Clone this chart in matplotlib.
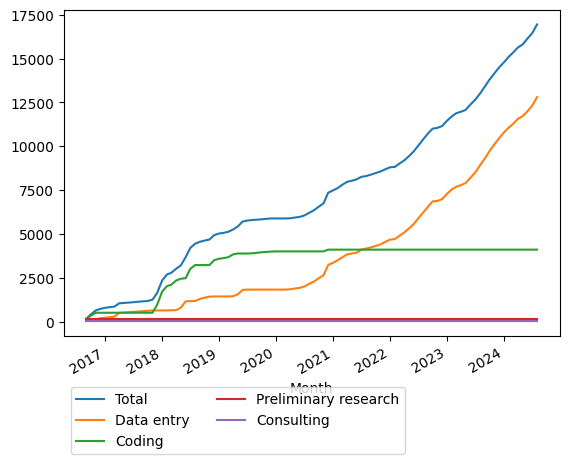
#!/usr/bin/env python3

import numpy as np
import pandas as pd
import matplotlib
matplotlib.use('Agg')
import matplotlib.pyplot as plt # type: ignore
import matplotlib.dates as mdates

# month-end dates, Aug 2016 .. Jul 2024
months = pd.date_range('2016-09-01', periods=96, freq='MS') - pd.Timedelta(days=1)

total = [
	150, 400, 630, 720, 780, 820, 850, 1040, 1060, 1080, 1100, 1130,
	1150, 1170, 1250, 1640, 2340, 2680, 2780, 3010, 3200, 3670, 4200, 4440,
	4550, 4620, 4680, 4930, 5020, 5060, 5120, 5250, 5420, 5700, 5760, 5790,
	5810, 5830, 5860, 5880, 5880, 5880, 5880, 5890, 5930, 5970, 6050, 6200,
	6350, 6550, 6740, 7350, 7480, 7620, 7800, 7970, 8030, 8110, 8250, 8300,
	8380, 8470, 8560, 8680, 8800, 8820, 9000, 9180, 9420, 9690, 10030, 10380,
	10720, 11000, 11050, 11150, 11450, 11700, 11880, 11970, 12070, 12380, 12650, 13000,
	13400, 13800, 14150, 14490, 14780, 15100, 15350, 15640, 15810, 16150, 16450, 16950,
]
data_entry = [
	20, 60, 120, 190, 220, 250, 280, 490, 510, 530, 550, 570,
	590, 610, 630, 630, 630, 630, 640, 650, 790, 1150, 1160, 1170,
	1290, 1360, 1420, 1430, 1430, 1430, 1430, 1440, 1550, 1800, 1820, 1820,
	1820, 1820, 1820, 1820, 1820, 1820, 1820, 1840, 1880, 1920, 2000, 2150,
	2280, 2470, 2640, 3230, 3350, 3500, 3660, 3830, 3880, 3920, 4100, 4160,
	4230, 4310, 4400, 4540, 4670, 4700, 4880, 5070, 5300, 5550, 5880, 6210,
	6540, 6850, 6880, 6980, 7280, 7530, 7680, 7780, 7900, 8200, 8500, 8900,
	9300, 9720, 10100, 10450, 10780, 11060, 11280, 11570, 11720, 12000, 12320, 12800,
]
coding = [
	150, 330, 500, 500, 500, 500, 500, 500, 500, 500, 500, 500,
	500, 500, 500, 970, 1700, 2020, 2100, 2340, 2440, 2470, 3010, 3220,
	3220, 3220, 3220, 3500, 3580, 3620, 3670, 3830, 3880, 3880, 3880, 3890,
	3920, 3950, 3970, 3990, 4000, 4000, 4000, 4000, 4000, 4000, 4000, 4000,
	4000, 4000, 4000, 4100, 4100, 4100, 4100, 4100, 4100, 4100, 4100, 4100,
	4100, 4100, 4100, 4100, 4100, 4100, 4100, 4100, 4100, 4100, 4100, 4100,
	4100, 4100, 4100, 4100, 4100, 4100, 4100, 4100, 4100, 4100, 4100, 4100,
	4100, 4100, 4100, 4100, 4100, 4100, 4100, 4100, 4100, 4100, 4100, 4100,
]
preliminary = [120] * 96
consulting = [25] * 96

series = [
	('Total', total),
	('Data entry', data_entry),
	('Coding', coding),
	('Preliminary research', preliminary),
	('Consulting', consulting),
]

def draw_chart() -> None:
	"""
	Cumulative hours per month, one line per activity
	"""
	fig, ax = plt.subplots(figsize=(6.4, 4.8), dpi=100)
	for name, values in series:
		ax.plot(months, values, label=name)
	ax.xaxis.set_major_locator(mdates.YearLocator())
	ax.xaxis.set_major_formatter(mdates.DateFormatter('%Y'))
	ax.set_xlabel('Month')
	fig.autofmt_xdate()
	ax.legend(loc='upper left', bbox_to_anchor=(0, -0.135), ncol=2)
	fig.savefig('out.png', bbox_inches='tight')

if __name__ == '__main__':
	draw_chart()
